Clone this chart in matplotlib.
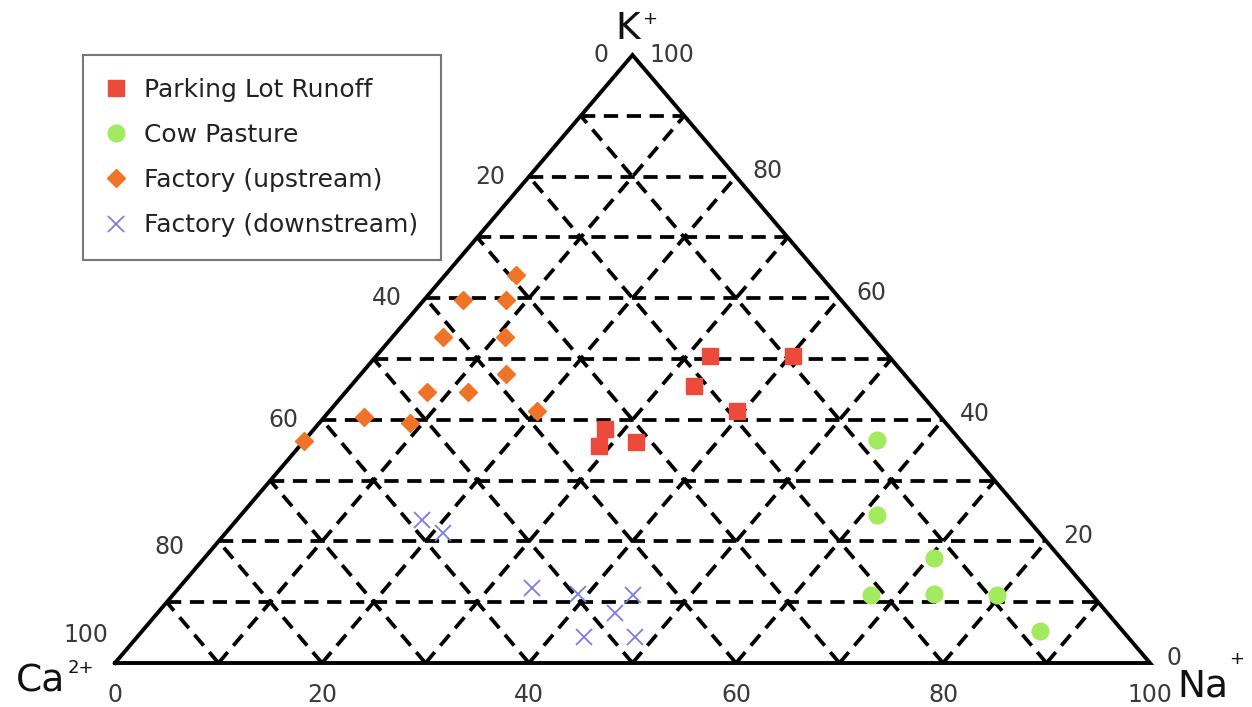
import numpy as np
import matplotlib.pyplot as plt

plt.rcParams['font.family'] = ['DejaVu Sans']

# ternary compositions in percent: Ca2+, Na+, K+
parking_ca = [17.3, 9.2, 21.3, 19.2, 33.4, 35.4, 31.5]
parking_na = [32.2, 40.3, 33.1, 39.4, 28.1, 28.9, 32.2]
parking_k = [50.5, 50.5, 45.6, 41.4, 38.5, 35.7, 36.3]

cow_ca = [8.0, 14.2, 12.2, 21.4, 15.2, 9.2, 8.0]
cow_na = [55.3, 61.5, 70.5, 67.4, 73.5, 79.6, 86.7]
cow_k = [36.7, 24.3, 17.3, 11.2, 11.3, 11.2, 5.3]

up_ca = [29.4, 36.5, 32.4, 41.5, 35.5, 38.5, 47.6, 43.6, 38.5, 55.7, 51.7, 63.5]
up_na = [6.8, 3.8, 7.9, 4.9, 10.9, 14.0, 7.8, 11.8, 20.1, 3.8, 8.8, 0.0]
up_k = [63.8, 59.7, 59.7, 53.6, 53.6, 47.5, 44.6, 44.6, 41.4, 40.5, 39.5, 36.5]

down_ca = [58.6, 57.6, 53.6, 49.6, 44.4, 47.6, 52.5, 47.6]
down_na = [17.9, 21.0, 34.1, 39.1, 44.4, 44.2, 43.2, 48.1]
down_k = [23.5, 21.4, 12.3, 11.3, 11.2, 8.2, 4.3, 4.3]

tick_values = [0, 20, 40, 60, 80, 100]


def tern(ca, na, k):
    ca, na, k = np.asarray(ca), np.asarray(na), np.asarray(k)
    tot = ca + na + k
    return 100 * (na + k / 2) / tot, 100 * k / tot


fig = plt.figure(figsize=(12.52, 7.07), dpi=100)
ax = fig.add_axes([115 / 1252, 44 / 707, 1035 / 1252, 608 / 707])
ax.set_xlim(0, 100)
ax.set_ylim(0, 100)
ax.axis('off')

# dashed grid
dash = dict(color='black', lw=2.7, ls=(0, (3.8, 2.3)), zorder=1)
for i in range(10, 100, 10):
    ax.plot([i / 2, 100 - i / 2], [i, i], **dash)            # constant K
    ax.plot([i, i + (100 - i) / 2], [0, 100 - i], **dash)    # constant Na
    ax.plot([100 - i, (100 - i) / 2], [0, 100 - i], **dash)  # constant Ca

# triangle outline
ax.plot([0, 100, 50, 0], [0, 0, 100, 0], color='black', lw=2.8,
        solid_joinstyle='miter', clip_on=False, zorder=2)

# data
x, y = tern(parking_ca, parking_na, parking_k)
ax.plot(x, y, ls='none', marker='s', ms=12, color='#ec4b3b',
        label='Parking Lot Runoff', zorder=3, clip_on=False)
x, y = tern(cow_ca, cow_na, cow_k)
ax.plot(x, y, ls='none', marker='o', ms=12, color='#a2ea5e',
        label='Cow Pasture', zorder=3, clip_on=False)
x, y = tern(up_ca, up_na, up_k)
ax.plot(x, y, ls='none', marker='D', ms=9, color='#ef7428',
        label='Factory (upstream)', zorder=3, clip_on=False)
x, y = tern(down_ca, down_na, down_k)
ax.plot(x, y, ls='none', marker='x', ms=12, mew=1.3, color='#7c7ce6',
        label='Factory (downstream)', zorder=3, clip_on=False)

# tick labels
tc = '#3a3a3a'
fs = 17
for v in tick_values:
    # bottom: Na
    ax.text(v, -5.3, str(v), ha='center', va='center', fontsize=fs, color=tc)
    # left: Ca
    k = 100 - v
    if v == 100:
        ax.text(-0.6, 4.6, str(v), ha='right', va='center', fontsize=fs, color=tc)
    elif v == 80:
        ax.text(k / 2 - 3.3, k - 1.0, str(v), ha='right', va='center', fontsize=fs, color=tc)
    else:
        ax.text(k / 2 - 2.3, k, str(v), ha='right', va='center', fontsize=fs, color=tc)
    # right: K
    dy = 0.0 if v == 100 else 0.9
    ax.text(100 - v / 2 + 1.6, v + dy, str(v), ha='left', va='center', fontsize=fs, color=tc)

# corner labels
lc = '#111111'
ax.text(49.5, 104.3, 'K', ha='center', va='center', fontsize=27, color=lc, clip_on=False)
ax.text(50.9, 105.9, '+', ha='left', va='center', fontsize=13, color=lc, clip_on=False)
ax.text(-4.8, -3.0, 'Ca', ha='right', va='center', fontsize=27, color=lc, clip_on=False)
ax.text(-4.6, -0.9, '2+', ha='left', va='center', fontsize=13, color=lc, clip_on=False)
ax.text(102.6, -3.8, 'Na', ha='left', va='center', fontsize=27, color=lc, clip_on=False)
ax.text(107.6, 0.7, '+', ha='left', va='center', fontsize=13, color=lc, clip_on=False)

leg = fig.legend(loc='upper left', bbox_to_anchor=(83 / 1252, 1 - 55 / 707),
                 frameon=True, fancybox=False, edgecolor='#555555', fontsize=18,
                 handletextpad=0.75, labelspacing=0.85, borderpad=0.9,
                 handlelength=0.8, borderaxespad=0)
leg.get_frame().set_linewidth(1.5)
for t in leg.get_texts():
    t.set_color('#222222')

fig.savefig('out.png', dpi=100)
